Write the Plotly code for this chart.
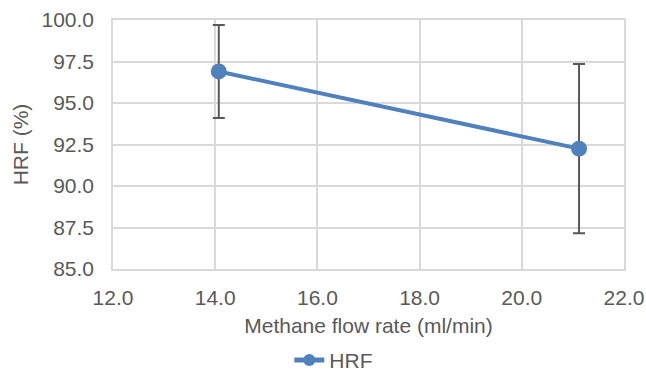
import plotly.graph_objects as go

flow_rate = [14.07, 21.12]
hrf = [96.9, 92.25]
hrf_err = [2.8, 5.1]

x_ticks = [12, 14, 16, 18, 20, 22]
y_ticks = [85.0, 87.5, 90.0, 92.5, 95.0, 97.5, 100.0]

txt = "#595959"
grid = "#D9D9D9"
font_family = "Liberation Sans, Arial, sans-serif"

fig = go.Figure()
fig.add_trace(go.Scatter(
    x=flow_rate, y=hrf, name="HRF", mode="lines+markers",
    line=dict(color="#4F81BD", width=4),
    marker=dict(color="#4F81BD", size=16),
    error_y=dict(type="data", array=hrf_err, visible=True,
                 color="#595959", thickness=2, width=6),
))

fig.update_layout(
    width=646, height=371,
    margin=dict(l=113, r=22, t=20, b=102, autoexpand=False),
    paper_bgcolor="white", plot_bgcolor="white",
    font=dict(family=font_family, size=21, color=txt),
    showlegend=True,
    legend=dict(orientation="h", x=0.345, xanchor="left", y=-0.285, yanchor="top",
                itemsizing="constant",
                font=dict(size=21, color=txt), bgcolor="rgba(0,0,0,0)"),
    xaxis=dict(range=[12, 22], tickvals=x_ticks, ticktext=[f"{v:.1f}" for v in x_ticks],
               showgrid=True, gridcolor=grid, gridwidth=1.5, automargin=False,
               showline=True, linecolor=grid, linewidth=1.5, mirror=True,
               zeroline=False, ticks="", ticklabelstandoff=9,
               title=dict(text="Methane flow rate (ml/min)", standoff=10,
                          font=dict(size=21, color=txt))),
    yaxis=dict(range=[85, 100], tickvals=y_ticks, ticktext=[f"{v:.1f}" for v in y_ticks],
               showgrid=True, gridcolor=grid, gridwidth=1.5, automargin=False,
               showline=True, linecolor=grid, linewidth=1.5, mirror=True,
               zeroline=False, ticks="", ticklabelstandoff=13,
               title=dict(text="HRF (%)", standoff=7,
                          font=dict(size=21, color=txt))),
)

fig.write_html("out.html", config={"displayModeBar": False},
               post_script="document.body.style.margin='0';document.body.style.overflow='hidden';")
